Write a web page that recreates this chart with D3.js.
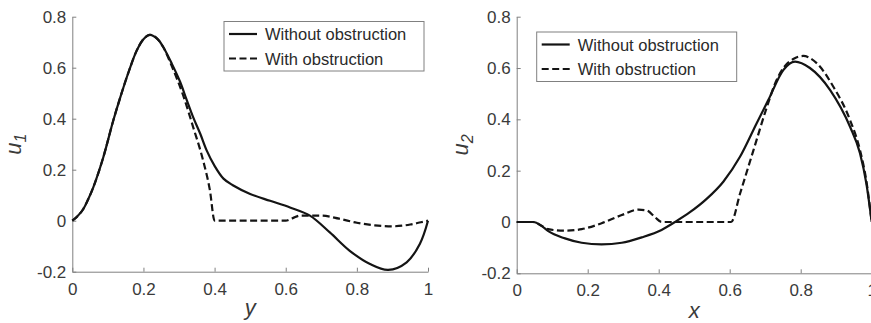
<!DOCTYPE html>
<html>
<head>
<meta charset="utf-8">
<script src="https://cdn.jsdelivr.net/npm/d3@7"></script>
<style>
  html, body { margin: 0; padding: 0; background: #fff; }
  svg { display: block; font-family: "Liberation Sans", Arial, sans-serif; }
</style>
</head>
<body>
<svg id="chart" width="871" height="323"></svg>
<script>
// ---------- data ----------
// Left panel: u1 vs y
const leftWithoutX = [0, 0.015, 0.031, 0.045, 0.059, 0.087, 0.115, 0.134, 0.16, 0.181, 0.2, 0.218, 0.24, 0.256, 0.28, 0.303, 0.32, 0.34, 0.36, 0.378, 0.4, 0.425, 0.45, 0.5, 0.556, 0.612, 0.668, 0.724, 0.78, 0.837, 0.888, 0.94, 0.977, 1.0];
const leftWithoutU = [0, 0.018, 0.046, 0.085, 0.131, 0.248, 0.392, 0.48, 0.59, 0.667, 0.712, 0.729, 0.712, 0.68, 0.615, 0.545, 0.48, 0.405, 0.34, 0.275, 0.215, 0.165, 0.14, 0.105, 0.078, 0.052, 0.02, -0.046, -0.118, -0.17, -0.193, -0.163, -0.091, 0];
const leftWithX = [0, 0.015, 0.031, 0.045, 0.059, 0.087, 0.115, 0.134, 0.16, 0.181, 0.2, 0.218, 0.24, 0.256, 0.28, 0.312, 0.34, 0.368, 0.387, 0.4, 0.5, 0.6, 0.62, 0.64, 0.7, 0.75, 0.8, 0.85, 0.9, 0.95, 0.98, 1.0];
const leftWithU = [0, 0.018, 0.046, 0.085, 0.131, 0.248, 0.392, 0.48, 0.59, 0.667, 0.712, 0.729, 0.712, 0.68, 0.605, 0.49, 0.366, 0.235, 0.118, 0, 0, 0, 0.01, 0.02, 0.02, 0.008, -0.008, -0.018, -0.022, -0.015, -0.006, 0];

// Right panel: u2 vs x
const rightWithoutX = [0, 0.047, 0.07, 0.089, 0.136, 0.183, 0.239, 0.296, 0.352, 0.408, 0.446, 0.488, 0.535, 0.582, 0.629, 0.676, 0.709, 0.751, 0.784, 0.826, 0.883, 0.939, 0.967, 0.985, 1.0];
const rightWithoutU = [0, 0, -0.015, -0.036, -0.064, -0.081, -0.087, -0.081, -0.06, -0.031, 0, 0.038, 0.09, 0.157, 0.254, 0.385, 0.476, 0.592, 0.625, 0.6, 0.514, 0.371, 0.268, 0.15, 0];
const rightWithX = [0, 0.047, 0.07, 0.089, 0.136, 0.183, 0.239, 0.296, 0.343, 0.366, 0.39, 0.408, 0.604, 0.629, 0.667, 0.704, 0.728, 0.751, 0.779, 0.807, 0.845, 0.892, 0.939, 0.967, 0.985, 1.0];
const rightWithU = [0, 0, -0.015, -0.028, -0.034, -0.028, -0.005, 0.027, 0.048, 0.045, 0.018, 0, 0, 0.11, 0.28, 0.445, 0.54, 0.6, 0.635, 0.647, 0.619, 0.527, 0.397, 0.28, 0.16, 0];

const xTickValues = [0, 0.2, 0.4, 0.6, 0.8, 1];
const xTickLabels = ["0", "0.2", "0.4", "0.6", "0.8", "1"];
const yTickValues = [-0.2, 0, 0.2, 0.4, 0.6, 0.8];
const yTickLabels = ["-0.2", "0", "0.2", "0.4", "0.6", "0.8"];
const legendLabels = ["Without obstruction", "With obstruction"];

// ---------- drawing ----------
const svg = d3.select("#chart");
const axisColor = "#808080";
const textColor = "#3a3a3a";
const lineColor = "#141414";

function panel(cfg) {
  const x = d3.scaleLinear().domain([0, 1]).range([cfg.x0, cfg.x1]);
  const y = d3.scaleLinear().domain([-0.2, 0.8]).range([cfg.yb, cfg.yt]);
  const g = svg.append("g");

  const xa = g.append("g").attr("transform", `translate(0,${cfg.yb})`)
    .call(d3.axisBottom(x).tickValues(xTickValues)
      .tickFormat((d, i) => xTickLabels[i]).tickSizeInner(-4).tickSizeOuter(0).tickPadding(11));
  const ya = g.append("g").attr("transform", `translate(${cfg.x0},0)`)
    .call(d3.axisLeft(y).tickValues(yTickValues)
      .tickFormat((d, i) => yTickLabels[i]).tickSizeInner(-4).tickSizeOuter(0).tickPadding(6));
  [xa, ya].forEach(a => {
    a.select(".domain").attr("stroke", axisColor).attr("stroke-width", 1);
    a.selectAll(".tick line").attr("stroke", axisColor).attr("stroke-width", 1);
    a.selectAll(".tick text").attr("fill", textColor).attr("font-size", 17)
      .attr("font-family", "Liberation Sans, Arial, sans-serif");
  });

  const curveFor = c => d3.line().x(d => x(d[0])).y(d => y(d[1])).curve(c);
  const s1 = cfg.withoutX.map((v, i) => [v, cfg.withoutU[i]]);
  const s2 = cfg.withX.map((v, i) => [v, cfg.withU[i]]);
  g.append("path").attr("d", curveFor(cfg.solidCurve)(s1)).attr("fill", "none")
    .attr("stroke", lineColor).attr("stroke-width", 2.2).attr("stroke-linejoin", "round");
  g.append("path").attr("d", curveFor(d3.curveMonotoneX)(s2)).attr("fill", "none")
    .attr("stroke", lineColor).attr("stroke-width", 2.2).attr("stroke-dasharray", "7,3.5");

  // axis labels
  g.append("text").attr("x", (cfg.x0 + cfg.x1) / 2).attr("y", cfg.xlabY)
    .attr("text-anchor", "middle").attr("font-size", 22).attr("font-style", "italic")
    .attr("fill", textColor).text(cfg.xlabel);
  const yl = g.append("text")
    .attr("transform", `translate(${cfg.ylabX},${(cfg.yt + cfg.yb) / 2}) rotate(-90)`)
    .attr("text-anchor", "middle").attr("font-size", 22).attr("font-style", "italic")
    .attr("fill", textColor);
  yl.append("tspan").text("u");
  yl.append("tspan").attr("font-size", 16).attr("dy", "0.3em").text(cfg.ysub);

  // legend
  const L = cfg.legend;
  const lg = g.append("g").attr("transform", `translate(${L.x},${L.y})`);
  lg.append("rect").attr("width", 200).attr("height", 49.5)
    .attr("fill", "#fff").attr("stroke", axisColor).attr("stroke-width", 1);
  legendLabels.forEach((lab, i) => {
    const cy = 12.5 + i * 24.5;
    lg.append("line").attr("x1", 5).attr("x2", 33).attr("y1", cy).attr("y2", cy)
      .attr("stroke", lineColor).attr("stroke-width", 2.2)
      .attr("stroke-dasharray", i === 1 ? "7,3.5" : null);
    lg.append("text").attr("x", 41).attr("y", cy + 6.2).attr("font-size", 16.5)
      .attr("fill", "#2a2a2a").text(lab);
  });
}

panel({
  x0: 72.3, x1: 428, yt: 16.7, yb: 271.7,
  withoutX: leftWithoutX, withoutU: leftWithoutU, withX: leftWithX, withU: leftWithU,
  solidCurve: d3.curveCatmullRom.alpha(0.5),
  xlabel: "y", ysub: "1", xlabY: 315, ylabX: 21,
  legend: { x: 224, y: 21.5 }
});
panel({
  x0: 516.7, x1: 871.7, yt: 16.7, yb: 273.3,
  withoutX: rightWithoutX, withoutU: rightWithoutU, withX: rightWithX, withU: rightWithU,
  solidCurve: d3.curveMonotoneX,
  xlabel: "x", ysub: "2", xlabY: 318, ylabX: 468,
  legend: { x: 536.7, y: 32 }
});
</script>
</body>
</html>
